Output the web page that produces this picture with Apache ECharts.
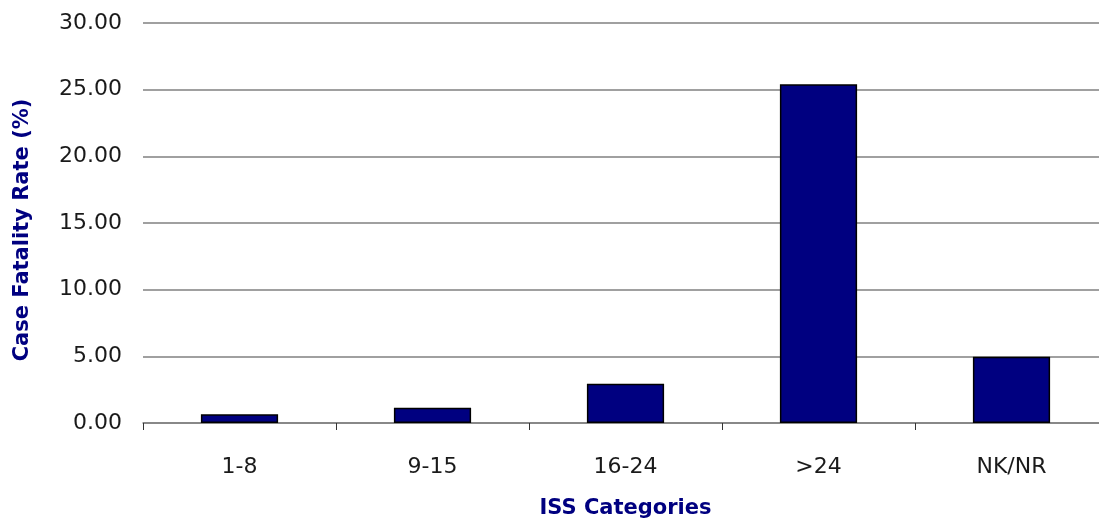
<!DOCTYPE html>
<html>
<head>
<meta charset="utf-8">
<script src="https://cdn.jsdelivr.net/npm/echarts@6/dist/echarts.min.js"></script>
<style>
  html, body { margin: 0; padding: 0; background: #fff; }
  #chart { width: 1099px; height: 525px; }
</style>
</head>
<body>
<div id="chart"></div>
<script>
var categories = ['1-8', '9-15', '16-24', '>24', 'NK/NR'];
var fatalityRate = [0.65, 1.15, 2.95, 25.4, 4.97];
var yTicks = { min: 0, max: 30, step: 5 };

var myChart = echarts.init(document.getElementById('chart'));
var option = {
    animation: false,
    grid: { left: 143, width: 965, top: 23, bottom: 102, outerBoundsMode: 'none', containLabel: false },
    xAxis: {
        type: 'category',
        data: categories,
        boundaryGap: true,
        name: 'ISS Categories',
        nameLocation: 'middle',
        nameGap: 75,
        nameTextStyle: { color: '#000080', fontWeight: 'bold', fontSize: 21, fontFamily: 'DejaVu Sans' },
        axisLine: { lineStyle: { color: '#808080', width: 1.5 } },
        axisTick: { show: true, length: 7, lineStyle: { color: '#333' } },
        axisLabel: { margin: 33, color: '#1a1a1a', fontSize: 22, fontFamily: 'DejaVu Sans' }
    },
    yAxis: {
        type: 'value',
        min: yTicks.min,
        max: yTicks.max,
        interval: yTicks.step,
        name: 'Case Fatality Rate (%)',
        nameLocation: 'middle',
        nameGap: 110,
        nameTextStyle: { color: '#000080', fontWeight: 'bold', fontSize: 21, fontFamily: 'DejaVu Sans', padding: [0, 14, 0, 0] },
        axisLine: { show: false },
        axisTick: { show: false },
        axisLabel: {
            margin: 21,
            color: '#1a1a1a',
            fontSize: 22,
            fontFamily: 'DejaVu Sans',
            formatter: function (v) { return v.toFixed(2); }
        },
        splitLine: { lineStyle: { color: '#808080', width: 1.5 } }
    },
    series: [{
        type: 'bar',
        data: fatalityRate,
        barCategoryGap: '60%',
        itemStyle: { color: '#000080', borderColor: '#000', borderWidth: 1.5 }
    }]
};
myChart.setOption(option);
</script>
</body>
</html>
